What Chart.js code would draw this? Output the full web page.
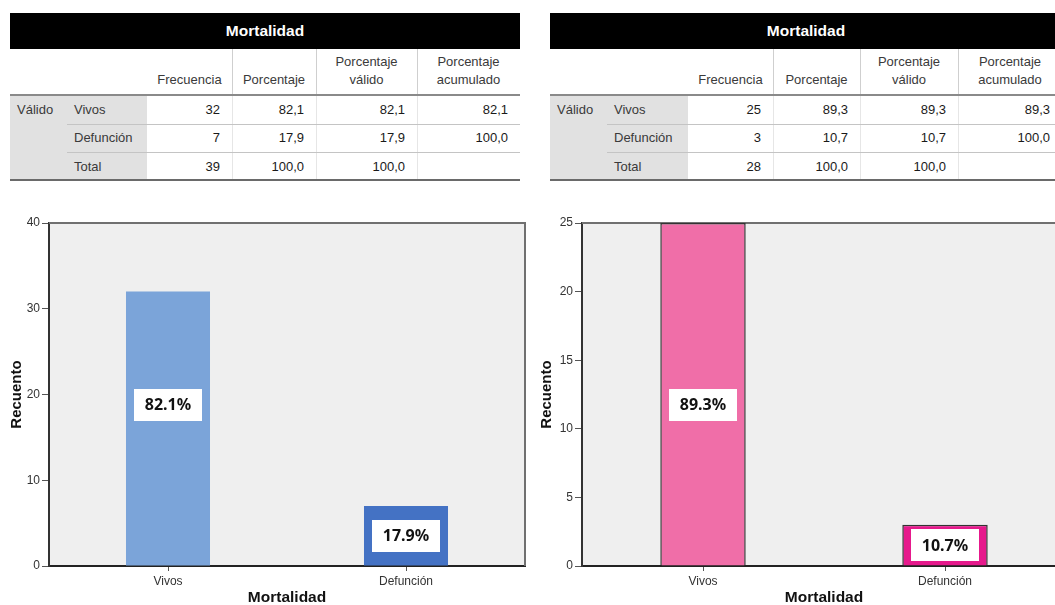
<!DOCTYPE html>
<html>
<head>
<meta charset="utf-8">
<script src="https://cdn.jsdelivr.net/npm/chart.js@4.4.1/dist/chart.umd.min.js"></script>
<style>
  html, body { margin: 0; padding: 0; background: #fff; width: 1055px; height: 605px; overflow: hidden; position: relative;
    font-family: "Liberation Sans", Arial, sans-serif; }
  .c { position: absolute; box-sizing: border-box; font-size: 13px; color: #3a3a3a; white-space: pre-line; }
  .title { background: #000; color: #fff; font-weight: bold; font-size: 15.5px; display: flex; align-items: center; justify-content: center; }
  .head { display: flex; align-items: flex-end; justify-content: center; text-align: center; line-height: 18px; padding-bottom: 6px; }
  .stub { display: flex; align-items: center; padding-left: 7px; }
  .num { display: flex; align-items: center; justify-content: flex-end; padding-right: 12px; color: #1a1a1a; }
  .ln { position: absolute; }
  canvas { position: absolute; top: 200px; }
</style>
</head>
<body>
<canvas id="chartA" width="540" height="410" style="left:0px"></canvas>
<canvas id="chartB" width="540" height="410" style="left:530px"></canvas>
<script>
// ---- table texts ----
const tableTitle = 'Mortalidad';
const groupLabel = 'Válido';
const rowLabels = ['Vivos', 'Defunción', 'Total'];
const colHeads = ['Frecuencia', 'Porcentaje', 'Porcentaje\nválido', 'Porcentaje\nacumulado'];

// ---- first group ----
const freqA  = [32, 7, 39];
const pctA   = [82.1, 17.9, 100.0];
const validA = [82.1, 17.9, 100.0];
const cumA   = [82.1, 100.0, null];

// ---- second group ----
const freqB  = [25, 3, 28];
const pctB   = [89.3, 10.7, 100.0];
const validB = [89.3, 10.7, 100.0];
const cumB   = [89.3, 100.0, null];

// ---- bar charts ----
const categories = ['Vivos', 'Defunción'];
const countsA = [32, 7];
const shareA  = [82.1, 17.9];
const countsB = [25, 3];
const shareB  = [89.3, 10.7];
const yTicksA = { max: 40, step: 10 };
const yTicksB = { max: 25, step: 5 };

const fmtComma = v => (v === null || v === undefined) ? '' : v.toFixed(1).replace('.', ',');

function div(cls, x, y, w, h, text) {
  const d = document.createElement('div');
  d.className = cls;
  d.style.left = x + 'px'; d.style.top = y + 'px';
  d.style.width = w + 'px'; d.style.height = h + 'px';
  if (text !== undefined) d.textContent = text;
  document.body.appendChild(d);
  return d;
}
function rect(x, y, w, h, color) {
  const d = div('ln', x, y, w, h);
  d.style.background = color;
  return d;
}

function buildTable(x0, cols, freq, pct, valid, cum) {
  const edges = [x0];
  cols.forEach(w => edges.push(edges[edges.length - 1] + w));
  const right = edges[edges.length - 1];
  const W = right - x0;
  const yTitle = 13, yHead = 49;
  const rows = [95, 123.5, 152, 180];

  div('c title', x0, yTitle, W, yHead - yTitle, tableTitle);

  // stub background
  rect(x0, rows[0], edges[2] - x0, rows[3] - rows[0], '#e1e1e1');

  // column headers
  colHeads.forEach((h, i) => div('c head', edges[i + 2], yHead, cols[i + 2], rows[0] - yHead, h));
  for (let i = 3; i <= 5; i++) rect(edges[i], yHead, 1, rows[0] - yHead, '#cfcfcf');
  // faint column rules in the body
  for (let i = 3; i <= 5; i++) rect(edges[i], rows[0], 1, rows[3] - rows[0], '#e6e6e6');

  div('c stub', x0, rows[0], cols[0], rows[1] - rows[0], groupLabel);
  rowLabels.forEach((r, j) => {
    const y = rows[j], h = rows[j + 1] - rows[j];
    div('c stub', edges[1], y, cols[1], h, r);
    const vals = [String(freq[j]), fmtComma(pct[j]), fmtComma(valid[j]), fmtComma(cum[j])];
    vals.forEach((v, i) => div('c num', edges[i + 2], y, cols[i + 2], h, v));
  });

  // horizontal rules
  rect(x0, rows[0] - 1, W, 2, '#8a8a8a');
  rect(edges[1], Math.round(rows[1]), right - edges[1], 1, '#c4c4c4');
  rect(edges[1], Math.round(rows[2]), right - edges[1], 1, '#c4c4c4');
  rect(x0, rows[3] - 1, W, 2, '#6a6a6a');
}

buildTable(10,  [57, 80, 85, 84, 101, 103], freqA, pctA, validA, cumA);
buildTable(550, [57, 81, 85, 87, 98, 104],  freqB, pctB, validB, cumB);

// ---- chart plugins ----
const framePlugin = {
  id: 'frame',
  beforeDraw(chart) {
    const { ctx, chartArea: a } = chart;
    ctx.save();
    ctx.fillStyle = '#efefef';
    ctx.fillRect(a.left, a.top, a.right - a.left, a.bottom - a.top);
    ctx.restore();
  },
  beforeDatasetsDraw(chart) {
    const { ctx, chartArea: a } = chart;
    ctx.save();
    ctx.strokeStyle = '#707070';
    ctx.lineWidth = 2;
    ctx.beginPath();
    ctx.moveTo(a.left, a.top);
    ctx.lineTo(a.right, a.top);
    ctx.lineTo(a.right, a.bottom);
    ctx.stroke();
    ctx.restore();
  }
};

const barLabelPlugin = {
  id: 'barLabels',
  afterDatasetsDraw(chart, args, opts) {
    const { ctx, chartArea: a } = chart;
    const meta = chart.getDatasetMeta(0);
    const values = opts.values || [];
    ctx.save();
    meta.data.forEach((bar, i) => {
      const { x, y, base } = bar.getProps(['x', 'y', 'base'], true);
      const bw = 68, bh = 32;
      const tall = (base - y) > 120;
      const cy = tall ? (a.top + a.bottom) / 2 + 10 : (y + base) / 2;
      ctx.fillStyle = '#ffffff';
      ctx.fillRect(Math.round(x - bw / 2), Math.round(cy - bh / 2), bw, bh);
      ctx.fillStyle = '#111111';
      ctx.font = 'bold 16px "Noto Sans", "Open Sans", sans-serif';
      ctx.textAlign = 'center';
      ctx.textBaseline = 'middle';
      ctx.fillText(values[i].toFixed(1) + '%', x, cy + 1);
    });
    ctx.restore();
  }
};

const tickFont = { family: '"Liberation Sans", Arial, sans-serif', size: 12 };
const titleFamily = '"Liberation Sans", Arial, sans-serif';

function makeChart(id, counts, shares, fills, borderColor, borderWidth, yTicks, yWidth, padRight) {
  return new Chart(document.getElementById(id), {
    type: 'bar',
    data: {
      labels: categories,
      datasets: [{
        data: counts,
        backgroundColor: fills,
        borderColor: borderColor,
        borderWidth: borderWidth,
        barPercentage: 0.353,
        categoryPercentage: 1
      }]
    },
    options: {
      responsive: false,
      animation: false,
      layout: { padding: { top: 23, right: padRight, left: 0, bottom: 0 } },
      plugins: {
        legend: { display: false },
        tooltip: { enabled: false },
        barLabels: { values: shares }
      },
      scales: {
        x: {
          grid: { offset: false, drawOnChartArea: false, tickLength: 5, color: '#555' },
          border: { color: '#222', width: 2 },
          ticks: { font: tickFont, color: '#333', padding: 3 },
          title: { display: true, text: 'Mortalidad', color: '#111',
                   font: { family: titleFamily, size: 15.5, weight: 'bold' }, padding: { top: 0, bottom: 3 } },
          afterFit: s => { s.height = 44; }
        },
        y: {
          min: 0, max: yTicks.max,
          ticks: { stepSize: yTicks.step, font: tickFont, color: '#333', padding: 2 },
          grid: { drawOnChartArea: false, tickLength: 7, color: '#555' },
          border: { color: '#333', width: 2 },
          title: { display: true, text: 'Recuento', color: '#111',
                   font: { family: titleFamily, size: 15, weight: 'bold' }, padding: { top: 7.5, bottom: 0 } },
          afterFit: s => { s.width = yWidth; }
        }
      }
    },
    plugins: [framePlugin, barLabelPlugin]
  });
}

makeChart('chartA', countsA, shareA, ['#7ba4d9', '#4472c4'], 'rgba(0,0,0,0)', 0, yTicksA, 49, 15);
makeChart('chartB', countsB, shareB, ['#f06ea8', '#e6198c'], '#333333', 1.5, yTicksB, 52, 4);
</script>
</body>
</html>
